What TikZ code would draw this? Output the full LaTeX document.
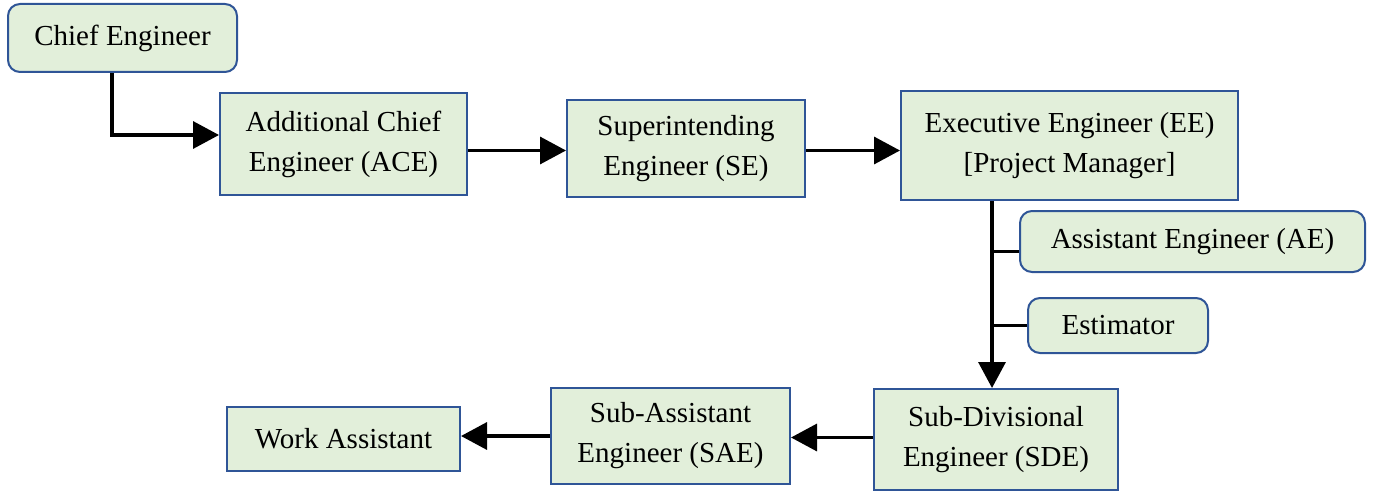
\documentclass[tikz,border=0pt]{standalone}
\usepackage{fontspec}
\setmainfont{Liberation Serif}
\usetikzlibrary{arrows.meta}
\definecolor{boxfill}{HTML}{E2EFDA}
\definecolor{boxline}{HTML}{2F5597}

\begin{document}
\begin{tikzpicture}[x=0.5pt, y=-0.5pt,
    box/.style={draw=boxline, line width=1pt, fill=boxfill, align=center,
        inner sep=0pt, font=\fontsize{14.5}{20}\selectfont},
    rbox/.style={box, rounded corners=6pt},
    arr/.style={line width=1.7pt, -{Triangle[length=13pt, width=13.5pt]}},
    lnk/.style={line width=1.7pt}]
    \useasboundingbox (0,0) rectangle (1374,492);
    % top row
    \node[rbox, minimum width=114.5pt, minimum height=34pt] (chief) at (122.5,38) {Chief Engineer};
    \node[box, minimum width=123.5pt, minimum height=51pt] (ace) at (343.5,144) {Additional Chief\\Engineer (ACE)};
    \node[box, minimum width=119pt, minimum height=48.5pt] (se) at (686,148.5) {Superintending\\Engineer (SE)};
    \node[box, minimum width=168.5pt, minimum height=54.5pt] (ee) at (1069.5,145.5) {Executive Engineer (EE)\\{[Project Manager]}};
    % staff under EE
    \node[rbox, minimum width=172.5pt, minimum height=30.5pt] (ae) at (1192.5,241.5) {Assistant Engineer (AE)};
    \node[rbox, minimum width=90pt, minimum height=27.5pt] (est) at (1118,325.5) {Estimator};
    % bottom row
    \node[box, minimum width=122pt, minimum height=50.5pt] (sde) at (996,439.5) {Sub-Divisional\\Engineer (SDE)};
    \node[box, minimum width=119.5pt, minimum height=48pt] (sae) at (670.5,436) {Sub-Assistant\\Engineer (SAE)};
    \node[box, minimum width=116.5pt, minimum height=32pt] (wa) at (343.5,439) {Work Assistant};

    \draw[arr] ([xshift=-5.25pt]chief.south) |- ([yshift=4.5pt]ace.west);
    \draw[arr] ([yshift=-1pt]ace.east |- se.west) -- ([yshift=-1pt]se.west);
    \draw[arr] ([yshift=-1pt]se.east) -- ([yshift=-1pt]se.east -| ee.west);
    \draw[arr] ([xshift=-2pt]ee.south -| sde.north) -- ([xshift=-2pt]sde.north);
    \draw[lnk] ([xshift=-2pt,yshift=-5pt]ae.west -| sde.north) -- ([yshift=-5pt]ae.west);
    \draw[lnk] ([xshift=-2pt]est.west -| sde.north) -- (est.west);
    \draw[arr] ([yshift=1pt]sde.west) -- ([yshift=1pt]sde.west -| sae.east);
    \draw[arr] (sae.west) -- (sae.west -| wa.east);
\end{tikzpicture}
\end{document}
